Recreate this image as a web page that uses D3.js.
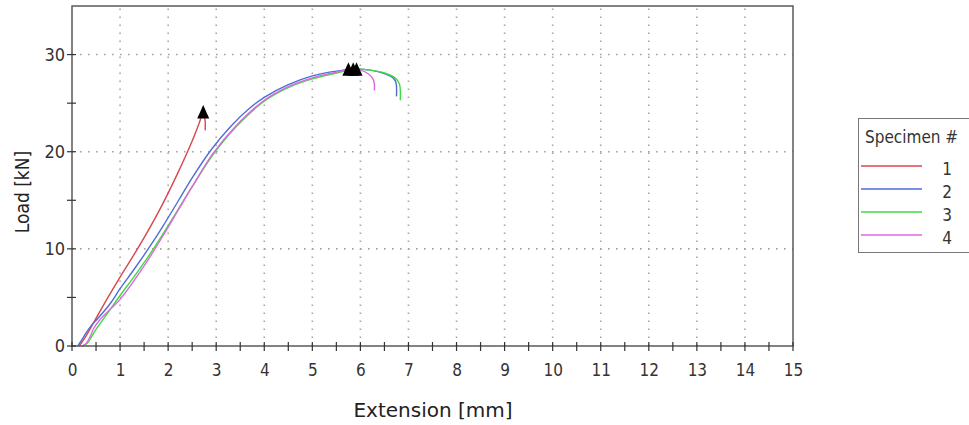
<!DOCTYPE html>
<html><head><meta charset="utf-8">
<script src="https://cdn.jsdelivr.net/npm/d3@7"></script>
<style>body{margin:0;background:#fff} svg{display:block}</style>
</head><body><svg id="c" width="969" height="425"></svg>
<script>
// ---- data ----
const specimens = ["1", "2", "3", "4"];
const colors = ["#d8474b", "#4d6ddb", "#3fdc3f", "#e264e2"];

const s1x = [0.15, 0.3, 0.45, 0.7, 1.0, 1.4, 1.8, 2.2, 2.5, 2.65, 2.73, 2.77, 2.77];
const s1y = [0, 1.1, 2.4, 4.6, 7.1, 10.3, 13.8, 17.8, 21.1, 23.0, 24.1, 23.1, 22.2];

const s2x = [0.12, 0.2, 0.3, 0.4, 0.55, 0.8, 1.0, 1.3, 1.6, 1.9, 2.2, 2.5, 2.88, 3.3, 3.7, 4.0, 4.5, 5.0, 5.5, 5.92, 6.2, 6.5, 6.68, 6.74, 6.75];
const s2y = [0, 0.6, 1.4, 2.1, 2.9, 4.4, 5.9, 7.95, 10.1, 12.4, 14.85, 17.3, 20.1, 22.6, 24.5, 25.6, 26.9, 27.8, 28.3, 28.5, 28.4, 28.05, 27.6, 27.1, 25.7];

const s3x = [0.2, 0.3, 0.4, 0.5, 0.7, 1.0, 1.3, 1.6, 1.9, 2.2, 2.5, 2.95, 3.4, 4.0, 4.5, 5.0, 5.5, 5.85, 6.2, 6.5, 6.72, 6.81, 6.83];
const s3y = [0, 0.2, 0.9, 1.7, 3.1, 5.2, 7.2, 9.3, 11.6, 14.0, 16.4, 19.8, 22.5, 25.2, 26.6, 27.5, 28.1, 28.5, 28.4, 28.1, 27.6, 27.0, 25.3];

const s4x = [0.22, 0.3, 0.38, 0.45, 0.58, 0.8, 1.0, 1.3, 1.6, 1.9, 2.2, 2.5, 2.93, 3.4, 4.0, 4.5, 5.0, 5.5, 5.75, 6.0, 6.17, 6.26, 6.29, 6.29];
const s4y = [0, 0.3, 1.0, 1.8, 2.7, 3.8, 4.8, 6.8, 9.0, 11.4, 13.9, 16.4, 19.8, 22.6, 25.3, 26.7, 27.6, 28.2, 28.5, 28.4, 28.0, 27.5, 27.0, 26.3];

const seriesX = [s1x, s2x, s3x, s4x];
const seriesY = [s1y, s2y, s3y, s4y];

const xTicks = d3.range(0, 16, 1);
const xMinorTicks = d3.range(0, 15.01, 0.5);
const yTicks = [0, 10, 20, 30];
const yMinorTicks = [0, 5, 10, 15, 20, 25, 30];

// ---- layout ----
const L = 72, R = 793, T = 6, B = 346;
const svg = d3.select("#c");
const x = d3.scaleLinear().domain([0, 15]).range([L, R]);
const y = d3.scaleLinear().domain([0, 35]).range([B, T]);

const axisCol = "#5a5a5a";
const gridCol = "#a8a49c";
const fam = "'DejaVu Sans Condensed', 'DejaVu Sans', sans-serif";

// grid
const g = svg.append("g");
g.selectAll(".vg").data(xTicks.filter(d => d > 0 && d < 15)).join("line")
  .attr("x1", d => x(d)).attr("x2", d => x(d)).attr("y1", B).attr("y2", T)
  .attr("stroke", gridCol).attr("stroke-width", 1.6).attr("stroke-dasharray", "1.6,6.4");
g.selectAll(".hg").data(yTicks.filter(d => d > 0)).join("line")
  .attr("x1", L).attr("x2", R).attr("y1", d => y(d)).attr("y2", d => y(d))
  .attr("stroke", gridCol).attr("stroke-width", 1.6).attr("stroke-dasharray", "1.6,6.4");

// curves
const line = d3.line().x(d => x(d[0])).y(d => y(d[1])).curve(d3.curveCatmullRom.alpha(0.5));
seriesX.forEach((xs, i) => {
  const pts = xs.map((v, j) => [v, seriesY[i][j]]);
  svg.append("path").datum(pts).attr("d", line)
    .attr("fill", "none").attr("stroke", colors[i]).attr("stroke-width", 1.4)
    .attr("stroke-linejoin", "round");
});

// peak markers
const tri = { draw(ctx) { ctx.moveTo(0, -8); ctx.lineTo(6, 5.5); ctx.lineTo(-6, 5.5); ctx.closePath(); } };
seriesX.forEach((xs, i) => {
  const k = d3.maxIndex(seriesY[i]);
  svg.append("path").attr("d", d3.symbol(tri)())
    .attr("transform", `translate(${x(xs[k])},${y(seriesY[i][k]) + 1})`)
    .attr("fill", "#000");
});

// frame
svg.append("rect").attr("x", L).attr("y", T).attr("width", R - L).attr("height", B - T)
  .attr("fill", "none").attr("stroke", axisCol).attr("stroke-width", 1.5);

// ticks (crossing)
svg.selectAll(".xt").data(xMinorTicks).join("line")
  .attr("x1", d => x(d)).attr("x2", d => x(d)).attr("y1", B - 4).attr("y2", B + 5)
  .attr("stroke", "#333").attr("stroke-width", 1.2);
svg.selectAll(".yt").data(yMinorTicks).join("line")
  .attr("x1", L - 5).attr("x2", L + 4).attr("y1", d => y(d)).attr("y2", d => y(d))
  .attr("stroke", "#333").attr("stroke-width", 1.2);

// tick labels via axes
const xa = svg.append("g").attr("transform", `translate(0,${B})`)
  .call(d3.axisBottom(x).tickValues(xTicks).tickSize(0).tickPadding(18).tickFormat(d3.format("d")));
xa.select(".domain").remove();
xa.selectAll("text").attr("font-family", fam).attr("font-size", 17).attr("fill", "#333");

const ya = svg.append("g").attr("transform", `translate(${L},0)`)
  .call(d3.axisLeft(y).tickValues(yTicks).tickSize(0).tickPadding(7).tickFormat(d3.format("d")));
ya.select(".domain").remove();
ya.selectAll("text").attr("font-family", fam).attr("font-size", 18).attr("fill", "#333");

// axis titles
svg.append("text").attr("x", 433).attr("y", 417).attr("text-anchor", "middle")
  .attr("font-family", "'DejaVu Sans', sans-serif").attr("font-size", 20)
  .attr("fill", "#222").text("Extension [mm]");
svg.append("text").attr("transform", `translate(29,${(T + B) / 2 + 16}) rotate(-90)`)
  .attr("text-anchor", "middle")
  .attr("font-family", fam).attr("font-size", 19)
  .attr("fill", "#222").text("Load [kN]");

// legend
const lg = svg.append("g");
lg.append("rect").attr("x", 858.5).attr("y", 118.5).attr("width", 130).attr("height", 134)
  .attr("fill", "#fff").attr("stroke", "#777").attr("stroke-width", 1);
lg.append("text").attr("x", 865).attr("y", 143)
  .attr("font-family", fam).attr("font-size", 17)
  .attr("fill", "#333").text("Specimen #");
specimens.forEach((s, i) => {
  const yy = 166 + i * 23;
  lg.append("line").attr("x1", 861).attr("x2", 922).attr("y1", yy).attr("y2", yy)
    .attr("stroke", colors[i]).attr("stroke-width", 1.3);
  lg.append("text").attr("x", 947).attr("y", yy + 9).attr("text-anchor", "middle")
    .attr("font-family", fam).attr("font-size", 17)
    .attr("fill", "#333").text(s);
});
</script></body></html>
